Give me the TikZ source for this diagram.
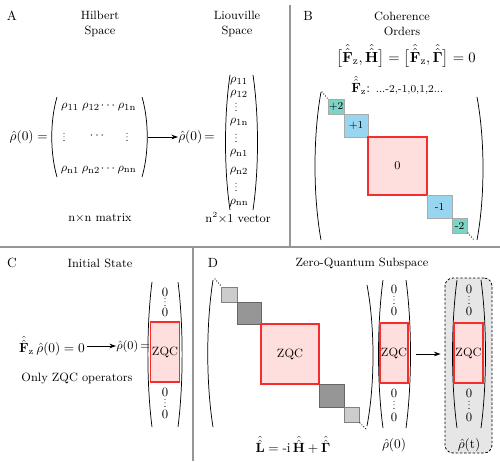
\documentclass[tikz,border=0pt]{standalone}
\usepackage{amsmath}
\usetikzlibrary{arrows.meta}
\definecolor{tealc}{RGB}{125,211,196}
\definecolor{bluec}{RGB}{152,214,240}
\definecolor{pinkc}{RGB}{255,222,222}
\definecolor{redc}{RGB}{245,45,45}
\definecolor{lgray}{RGB}{204,204,204}
\definecolor{dgray}{RGB}{150,150,150}
\definecolor{sepc}{RGB}{150,150,150}
\definecolor{bgc}{RGB}{230,230,230}
\definecolor{cbord}{RGB}{170,170,170}
\newcommand{\myparen}[4]{\draw[pr] (#1,#2) .. controls ({#1-#4},{#2+0.3*(#3-#2)}) and ({#1-#4},{#3-0.3*(#3-#2)}) .. (#1,#3);}
\newcommand{\vdt}[2]{\draw[vdts] (#1,{#2-3.6}) -- (#1,{#2+3.6});}
\newcommand{\SF}{\hat{\hat{\mathbf F}}_{\mathrm z}}
\begin{document}
\begin{tikzpicture}[x=0.75pt,y=-0.75pt,
  txt/.style={inner sep=0pt, font=\fontsize{9}{10.5}\selectfont, align=center},
  mth/.style={inner sep=0pt, font=\fontsize{10}{12}\selectfont},
  ent/.style={inner sep=0pt, font=\fontsize{9.5}{11}\selectfont},
  pr/.style={line width=0.55pt},
  arr/.style={-{Stealth[length=5pt,width=3.5pt]}, line width=0.6pt},
  sep/.style={draw=sepc, line width=0.8pt},
  cb/.style={draw, inner sep=0pt, font=\fontsize{8}{9}\selectfont},
  tealb/.style={cb, fill=tealc, draw=cbord},
  blueb/.style={cb, fill=bluec, draw=cbord},
  zqc/.style={cb, fill=pinkc, draw=redc, line width=0.8pt, font=\fontsize{9}{10}\selectfont},
  lgb/.style={cb, fill=lgray, draw=gray},
  dgb/.style={cb, fill=dgray, draw=black!60},
  dts/.style={line width=0.9pt, line cap=round, dash pattern=on 0pt off 2pt},
  vdts/.style={line width=0.8pt, line cap=round, dash pattern=on 0pt off 2.65pt},
  lbl/.style={inner sep=0pt, font=\fontsize{10}{12}\selectfont}
]
\useasboundingbox (0,0) rectangle (500,461);

% separators
\draw[sep] (290,5) -- (290,247);
\draw[sep] (0,247) -- (500,247);
\draw[sep] (193,247) -- (193,461);

% ---------------- Panel A
\node[lbl] (labA) at (12,16) {A};
\node[txt] (hil) at (100,24) {Hilbert\\[1pt]Space};
\node[txt] (liou) at (237,24) {Liouville\\[1pt]Space};
\node[mth, anchor=east] (rhoA1) at (48,137) {$\hat\rho(0) =$};
\myparen{57}{97}{177}{7}
\myparen{142}{97}{177}{-7}
\node[ent] (a11) at (70,107) {$\rho_{\mathrm{11}}$};
\node[ent] (a12) at (91,107) {$\rho_{\mathrm{12}}$};
\node[ent] (a1d) at (109,106) {$\cdots$};
\node[ent] (a1n) at (127,107) {$\rho_{\mathrm{1n}}$};
\vdt{64}{137}
\node[ent] (a2d) at (98,136) {$\cdots$};
\vdt{127}{137}
\node[ent] (an1) at (70,170) {$\rho_{\mathrm{n1}}$};
\node[ent] (an2) at (91,170) {$\rho_{\mathrm{n2}}$};
\node[ent] (and) at (109,169) {$\cdots$};
\node[ent] (ann) at (127,170) {$\rho_{\mathrm{nn}}$};
\coordinate (mAr) at (148,137);
\node[mth, anchor=west] (rhoA2) at (178,137) {$\hat\rho(0)\,{=}$};
\draw[arr] (mAr) -- (rhoA2.west);
\myparen{230}{75}{210}{6}
\myparen{253}{75}{210}{-6}
\node[ent] (v1) at (239,81) {$\rho_{\mathrm{11}}$};
\node[ent] (v2) at (239,94) {$\rho_{\mathrm{12}}$};
\vdt{236}{107}
\node[ent] (v4) at (239,122) {$\rho_{\mathrm{1n}}$};
\vdt{236}{138}
\node[ent] (v6) at (239,153) {$\rho_{\mathrm{n1}}$};
\node[ent] (v7) at (239,171) {$\rho_{\mathrm{n2}}$};
\vdt{236}{187}
\node[ent] (v9) at (239,203) {$\rho_{\mathrm{nn}}$};
\node[txt] (capA1) at (100,218) {n$\times$n matrix};
\node[txt] (capA2) at (238,218) {n$^2\times$1 vector};

% ---------------- Panel B
\node[lbl] (labB) at (308,16) {B};
\node[txt] (coh) at (402,24) {Coherence\\[1pt]Orders};
\node[mth, font=\fontsize{11}{13}\selectfont] (comm) at (406,56) {$\bigl[\SF,\hat{\hat{\mathbf H}}\bigr] = \bigl[\SF,\hat{\hat{\mathbf\Gamma}}\bigr] = 0$};
\node[mth, anchor=west] (fzl) at (351,85) {$\SF$: {\fontsize{8}{9}\selectfont ...-2,-1,0,1,2...}};
\myparen{321}{92}{240}{8}
\myparen{477}{97}{240}{-8}
\draw[dts] (322,92) -- (328,99);
\node[tealb, minimum width=12pt, minimum height=11pt] (bp2) at (336,106.5) {+2};
\node[blueb, minimum width=18pt, minimum height=17.25pt] (bp1) at (356,125.5) {+1};
\node[zqc, minimum width=44.25pt, minimum height=43.5pt] (b0) at (397.5,166) {0};
\node[blueb, minimum width=18.75pt, minimum height=17.25pt] (bm1) at (439.5,206.5) {-1};
\node[tealb, minimum width=11.25pt, minimum height=11.25pt] (bm2) at (459.5,225.5) {-2};
\draw[dts] (468,233) -- (474,240);

% ---------------- Panel C
\node[lbl] (labC) at (12,263) {C};
\node[txt] (init) at (100,263) {Initial State};
\node[mth, anchor=east] (eqC) at (85,346) {$\SF\,\hat\rho(0) = 0$};
\node[mth, font=\fontsize{9}{11}\selectfont, anchor=west] (rhoC) at (116,346) {$\hat\rho(0)\,{=}$};
\draw[arr] ([xshift=1.5pt]eqC.east) -- (rhoC.west);
\node[txt] (only) at (77,378) {Only ZQC operators};
\myparen{152}{282}{427}{5.5}
\myparen{178}{282}{427}{-5.5}
\node[ent] (c01) at (165,292) {0};
\vdt{165}{302}
\node[ent] (c03) at (165,312) {0};
\node[zqc, minimum width=21.75pt, minimum height=45pt] (czqc) at (165,352) {ZQC};
\node[ent] (c04) at (165,392) {0};
\vdt{165}{403}
\node[ent] (c06) at (165,414) {0};

% ---------------- Panel D
\node[lbl] (labD) at (213,263) {D};
\node[txt] (zqs) at (362,263) {Zero-Quantum Subspace};
\myparen{213}{280}{427}{7}
\myparen{367}{285}{426}{-8}
\draw[dts] (215,279) -- (222,287);
\node[lgb, minimum width=12pt, minimum height=11.25pt] (dg1) at (229,294.5) {};
\node[dgb, minimum width=18pt, minimum height=16.5pt] (dg2) at (249,313) {};
\node[zqc, minimum width=43.5pt, minimum height=45pt] (dz) at (290,354) {ZQC};
\node[dgb, minimum width=18.75pt, minimum height=17.25pt] (dg3) at (331.5,395.5) {};
\node[lgb, minimum width=11.25pt, minimum height=11.25pt] (dg4) at (351.5,414.5) {};
\draw[dts] (360,423) -- (366,429);
\node[mth] (Leq) at (293,445) {$\hat{\hat{\mathbf L}} = \mbox{-i}\,\hat{\hat{\mathbf H}} + \hat{\hat{\mathbf \Gamma}}$};

% vector rho(0)
\myparen{383}{280}{428}{6}
\myparen{406}{280}{428}{-6}
\node[ent] (d01) at (394,289) {0};
\vdt{394}{300}
\node[ent] (d03) at (394,311) {0};
\node[zqc, minimum width=21pt, minimum height=45pt] (dvz) at (394,353) {ZQC};
\node[ent] (d04) at (394,393) {0};
\vdt{394}{405}
\node[ent] (d06) at (394,417) {0};
\node[mth] (rho0) at (394,445) {$\hat\rho(0)$};

% rho(t) box
\node[draw, dash pattern=on 1.8pt off 1.4pt, line width=0.6pt, rounded corners=6pt, fill=bgc,
      minimum width=35.25pt, minimum height=131.25pt, inner sep=0pt] (rt) at (468.5,365.5) {};
\coordinate (v1r) at (416,354);
\draw[arr] (v1r) -- ([xshift=-3pt]rt.west |- v1r);
\myparen{457}{280}{428}{6}
\myparen{481}{280}{428}{-6}
\node[ent] (e01) at (469,289) {0};
\vdt{469}{300}
\node[ent] (e03) at (469,311) {0};
\node[zqc, minimum width=21.75pt, minimum height=45pt] (evz) at (468.5,353) {ZQC};
\node[ent] (e04) at (469,393) {0};
\vdt{469}{405}
\node[ent] (e06) at (469,417) {0};
\node[mth] (rhot) at (469,445) {$\hat\rho(\mathrm{t})$};
\end{tikzpicture}
\end{document}
